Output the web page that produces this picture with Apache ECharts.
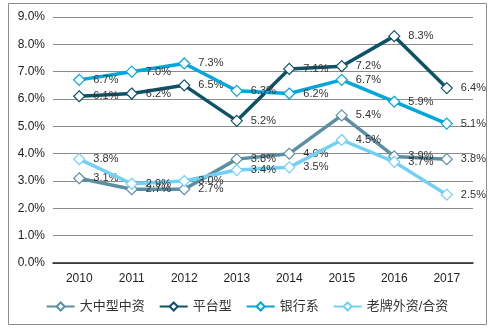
<!DOCTYPE html>
<html>
<head>
<meta charset="utf-8">
<script src="https://cdn.jsdelivr.net/npm/echarts@6/dist/echarts.min.js"></script>
<style>
html,body{margin:0;padding:0;background:#fff;}
#chart{width:494px;height:331px;}
</style>
</head>
<body>
<div id="chart"></div>
<script>
// Years on the category axis
const years = ['2010', '2011', '2012', '2013', '2014', '2015', '2016', '2017'];

// Rates (%) per group of firms
const seriesNames = ['大中型中资', '平台型', '银行系', '老牌外资/合资'];
const largeDomestic = [3.1, 2.7, 2.7, 3.8, 4.0, 5.4, 3.9, 3.8];
const platform = [6.1, 6.2, 6.5, 5.2, 7.1, 7.2, 8.3, 6.4];
const bankAffiliated = [6.7, 7.0, 7.3, 6.3, 6.2, 6.7, 5.9, 5.1];
const foreignJV = [3.8, 2.9, 3.0, 3.4, 3.5, 4.5, 3.7, 2.5];

const colors = ['#5b8fa3', '#0e5268', '#00a6dc', '#70d0f5'];
const values = [largeDomestic, platform, bankAffiliated, foreignJV];

const chart = echarts.init(document.getElementById('chart'), null, { renderer: 'canvas' });

const font = 'Arial, "Liberation Sans", "Noto Sans CJK SC", sans-serif';

chart.setOption({
  animation: false,
  backgroundColor: '#fff',
  textStyle: { fontFamily: font },
  graphic: [{
    type: 'rect',
    shape: { x: 8.5, y: 3.5, width: 478, height: 321 },
    style: { fill: 'none', stroke: '#8c8c8c', lineWidth: 1 },
    z: -1
  }],
  grid: { left: 53, right: 21, top: 17, bottom: 68 },
  legend: {
    bottom: 13,
    left: 'center',
    itemWidth: 28,
    itemHeight: 10,
    itemGap: 14,
    textStyle: { fontSize: 13, color: '#333', fontFamily: font },
    data: seriesNames
  },
  xAxis: {
    type: 'category',
    data: years,
    boundaryGap: true,
    axisLine: { lineStyle: { color: '#222', width: 1.5 } },
    axisTick: { show: false },
    axisLabel: { color: '#222', fontSize: 12, margin: 10 }
  },
  yAxis: {
    type: 'value',
    min: 0,
    max: 9,
    interval: 1,
    axisLine: { show: false },
    axisTick: { show: false },
    axisLabel: {
      color: '#222',
      fontSize: 12,
      margin: 8,
      formatter: v => v.toFixed(1) + '%'
    },
    splitLine: { lineStyle: { color: '#8c8c8c', width: 1 } }
  },
  series: values.map((d, i) => ({
    name: seriesNames[i],
    type: 'line',
    data: d,
    color: colors[i],
    symbol: 'diamond',
    symbolSize: 11,
    showAllSymbol: true,
    lineStyle: { width: 3.5, color: colors[i] },
    itemStyle: { color: '#fff', borderColor: colors[i], borderWidth: 1.2 },
    label: {
      show: true,
      position: 'right',
      distance: 8,
      color: '#333',
      fontSize: 11,
      formatter: p => p.value.toFixed(1) + '%'
    },
    z: 2 + i
  }))
});
</script>
</body>
</html>
